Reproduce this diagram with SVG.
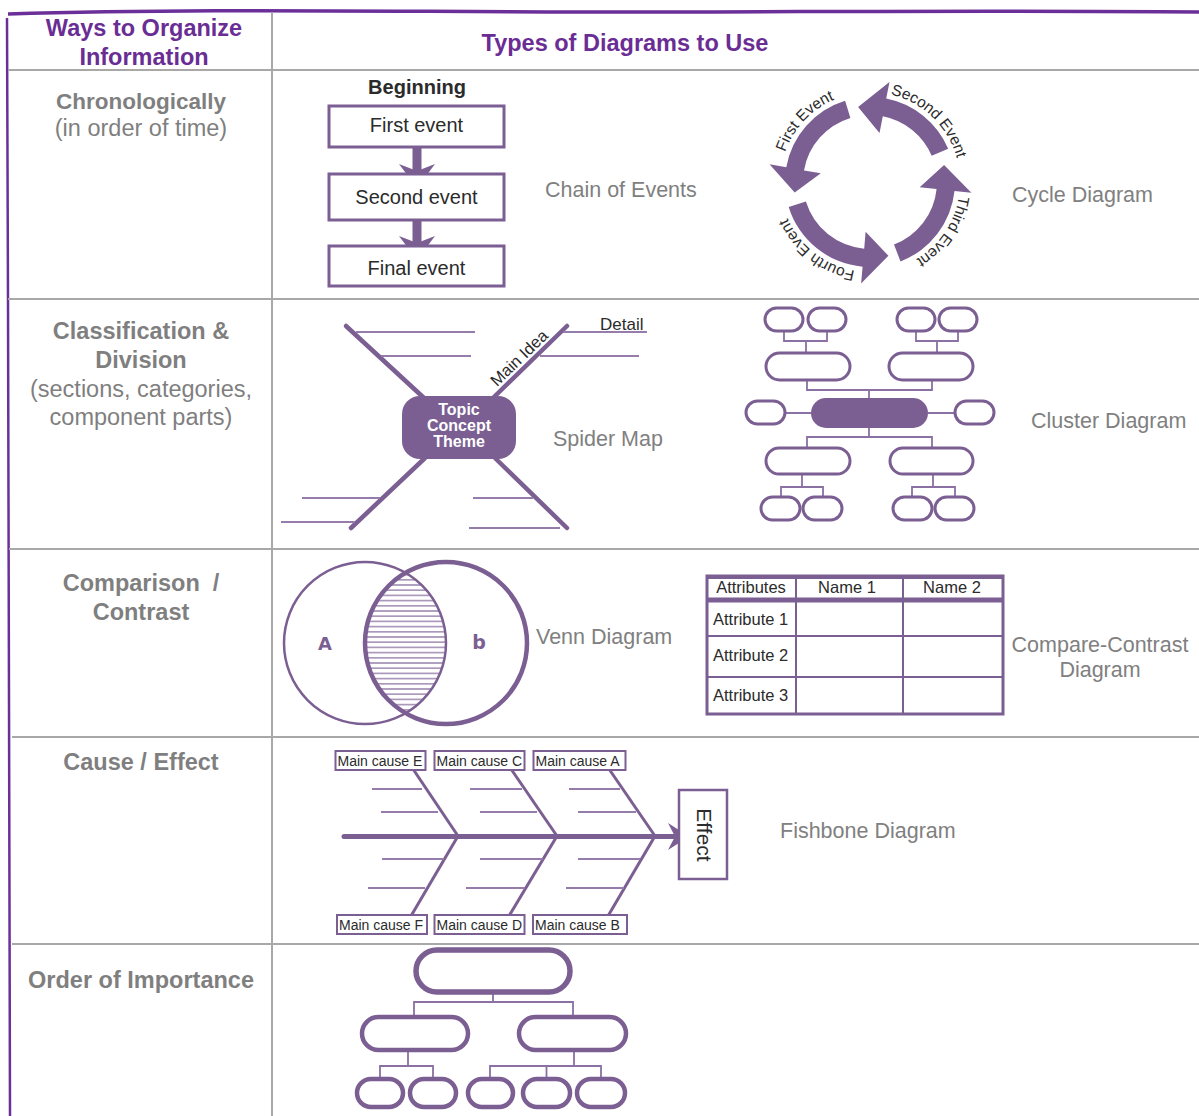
<svg xmlns="http://www.w3.org/2000/svg" width="1199" height="1116" viewBox="0 0 1199 1116">
<defs>
<style>
.grid{stroke:#a8a8a8;stroke-width:2;fill:none}
.hdr{font-family:"Liberation Sans",Arial,sans-serif;font-weight:bold;fill:#6a2d94;font-size:23.5px;text-anchor:middle}
.lbl{font-family:"Liberation Sans",Arial,sans-serif;font-weight:bold;fill:#7f7f7f;font-size:23.5px;text-anchor:middle}
.sub{font-family:"Liberation Sans",Arial,sans-serif;fill:#7f7f7f;font-size:23.5px;text-anchor:middle}
.cap{font-family:"Liberation Sans",Arial,sans-serif;fill:#808080;font-size:21.5px}
.txt{font-family:"Liberation Sans",Arial,sans-serif;fill:#2b2b2b}
.box{fill:#fff;stroke:#7b5e92;stroke-width:3}
.lbox{fill:#fff;stroke:#7b5e92;stroke-width:2}
.pill{fill:#fff;stroke:#7b5e92;stroke-width:3}
.pill2{fill:#fff;stroke:#7b5e92;stroke-width:4.5}
.fillp{fill:#7b5e92}
.thick{stroke:#7b5e92;stroke-width:4.5;stroke-linecap:round;fill:none}
.bone{stroke:#7b5e92;stroke-width:3;fill:none}
.thin{stroke:#957cab;stroke-width:2;fill:none}
.conn{stroke:#8b70a3;stroke-width:1.8;fill:none}
.tl{stroke:#7b5e92;stroke-width:2;fill:none}
</style>
<pattern id="hatch" patternUnits="userSpaceOnUse" width="10" height="5.2"><line x1="0" y1="2.6" x2="10" y2="2.6" stroke="#8f76a6" stroke-width="1.3"/></pattern>
<clipPath id="cL"><circle cx="365" cy="643" r="81"/></clipPath>
<clipPath id="cR"><circle cx="446" cy="643" r="81"/></clipPath>
<path id="tp1" d="M 780.05 185.14 A 90 90 0 0 1 866.86 92.05"/>
<path id="tp2" d="M 868.43 92.01 A 90 90 0 0 1 959.99 180.43"/>
<path id="tp3" d="M 958.35 164.83 A 90 90 0 0 1 887.17 270.35"/>
<path id="tp4" d="M 880.97 271.33 A 90 90 0 0 1 780.67 192.97"/>
</defs>
<rect x="0" y="0" width="1199" height="1116" fill="#fff"/>

<g id="table-grid">
<path d="M 8 14 C 200 8, 400 12, 600 12 S 1000 10, 1199 12" stroke="#6b2f9a" stroke-width="3.5" fill="none"/>
<path d="M 7 18 L 8 300 L 9 700 L 10 1116" stroke="#6b2f9a" stroke-width="2.5" fill="none"/>
<line class="grid" x1="8" y1="70" x2="1199" y2="70"/>
<line class="grid" x1="8" y1="299" x2="1199" y2="299"/>
<line class="grid" x1="9" y1="549" x2="1199" y2="549"/>
<line class="grid" x1="12" y1="737" x2="1199" y2="737"/>
<line class="grid" x1="12" y1="944" x2="1199" y2="944"/>
<line class="grid" x1="272" y1="12" x2="272" y2="1116"/>
</g>

<g id="headers">
<text class="hdr" x="144" y="36">Ways to Organize</text>
<text class="hdr" x="144" y="65">Information</text>
<text class="hdr" x="625" y="51">Types of Diagrams to Use</text>
</g>

<g id="row-labels">
<text class="lbl" x="141" y="109" style="font-size:22.5px">Chronologically</text>
<text class="sub" x="141" y="136">(in order of time)</text>
<text class="lbl" x="141" y="339">Classification &amp;</text>
<text class="lbl" x="141" y="368">Division</text>
<text class="sub" x="141" y="397">(sections, categories,</text>
<text class="sub" x="141" y="425">component parts)</text>
<text class="lbl" x="141" y="591" xml:space="preserve">Comparison  /</text>
<text class="lbl" x="141" y="620">Contrast</text>
<text class="lbl" x="141" y="770">Cause / Effect</text>
<text class="lbl" x="141" y="988">Order of Importance</text>
</g>

<g id="captions">
<text class="cap" x="545" y="197">Chain of Events</text>
<text class="cap" x="1012" y="202">Cycle Diagram</text>
<text class="cap" x="553" y="446">Spider Map</text>
<text class="cap" x="1031" y="428">Cluster Diagram</text>
<text class="cap" x="536" y="644">Venn Diagram</text>
<text class="cap" x="1100" y="652" text-anchor="middle">Compare-Contrast</text>
<text class="cap" x="1100" y="677" text-anchor="middle">Diagram</text>
<text class="cap" x="780" y="838">Fishbone Diagram</text>
</g>

<g id="connectors">
<rect class="fillp" x="412.5" y="147" width="9" height="25"/>
<polygon class="fillp" points="399,164 417,171 435,164 417,188"/>
<rect class="fillp" x="412.5" y="220" width="9" height="24"/>
<polygon class="fillp" points="399,236 417,243 435,236 417,260"/>
<line class="thick" x1="346" y1="326" x2="424" y2="398"/>
<line class="thick" x1="567" y1="326" x2="493" y2="398"/>
<line class="thick" x1="351" y1="528" x2="425" y2="458"/>
<line class="thick" x1="567" y1="528" x2="495" y2="458"/>
<line class="thin" x1="356" y1="332" x2="475" y2="332"/>
<line class="thin" x1="381" y1="356" x2="471" y2="356"/>
<line class="thin" x1="563" y1="332" x2="647" y2="332"/>
<line class="thin" x1="540" y1="356" x2="639" y2="356"/>
<line class="thin" x1="302" y1="498" x2="380" y2="498"/>
<line class="thin" x1="281" y1="522" x2="355" y2="522"/>
<line class="thin" x1="473" y1="498" x2="533" y2="498"/>
<line class="thin" x1="469" y1="528" x2="560" y2="528"/>
<path class="conn" d="M 785 413 H 811 M 928 413 H 955 M 869 398 V 390 M 807 380 V 390 H 932 V 380 M 869 428 V 437 M 807 448 V 437 H 932 V 448 M 784 331 V 341 H 827 V 331 M 806 341 V 353 M 916 331 V 341 H 958 V 331 M 937 341 V 353 M 802 474 V 487 M 781 497 V 487 H 823 V 497 M 933 474 V 487 M 912 497 V 487 H 955 V 497"/>
<line x1="344" y1="836.5" x2="676" y2="836.5" stroke="#7b5e92" stroke-width="5" stroke-linecap="round"/>
<polygon class="fillp" points="668,823 689,836.5 668,850 675,836.5"/>
<line class="bone" x1="413" y1="769" x2="458" y2="836"/>
<line class="bone" x1="511" y1="769" x2="557" y2="836"/>
<line class="bone" x1="609" y1="769" x2="655" y2="836"/>
<line class="bone" x1="458" y1="836" x2="411" y2="916"/>
<line class="bone" x1="557" y1="836" x2="509" y2="916"/>
<line class="bone" x1="655" y1="836" x2="608" y2="916"/>
<path class="thin" d="M 372 789 H 422 M 381 812 H 438 M 382 859 H 444 M 368 888 H 425 M 470 789 H 522 M 480 812 H 537 M 480 859 H 543 M 466 888 H 525 M 569 789 H 620 M 578 812 H 636 M 578 859 H 640 M 566 888 H 624"/>
<path class="conn" d="M 493 992 V 1002 M 414 1017 V 1002 H 573 V 1017 M 408 1050 V 1066 M 380 1079 V 1066 H 433 V 1079 M 574 1050 V 1066 M 490 1079 V 1066 H 601 V 1079 M 546.5 1066 V 1079"/>
</g>

<g id="chain-beginning"><text class="txt" x="417" y="94" font-size="20" font-weight="bold" text-anchor="middle">Beginning</text></g>
<g id="first-event"><rect class="box" x="329" y="106" width="175" height="41"/><text class="txt" x="416.5" y="132" font-size="20" text-anchor="middle">First event</text></g>
<g id="second-event"><rect class="box" x="329" y="174" width="175" height="46"/><text class="txt" x="416.5" y="204" font-size="20" text-anchor="middle">Second event</text></g>
<g id="final-event"><rect class="box" x="329" y="246" width="175" height="40"/><text class="txt" x="416.5" y="275" font-size="20" text-anchor="middle">Final event</text></g>

<g id="cycle-first"><path class="fillp" d="M 845.1 100.7 A 85 85 0 0 0 786.3 167.2 L 769.5 164.3 L 794.7 192.6 L 820.8 173.3 L 804.0 170.4 A 67 67 0 0 1 850.4 117.9 Z"/><text class="txt" font-size="15.5"><textPath href="#tp1" startOffset="50%" text-anchor="middle">First Event</textPath></text></g>
<g id="cycle-second"><path class="fillp" d="M 948.2 148.8 A 85 85 0 0 0 886.2 98.6 L 889.5 81.9 L 858.1 106.9 L 879.5 132.9 L 882.8 116.2 A 67 67 0 0 1 931.7 155.8 Z"/><text class="txt" font-size="15.5"><textPath href="#tp2" startOffset="50%" text-anchor="middle">Second Event</textPath></text></g>
<g id="cycle-third"><path class="fillp" d="M 900.5 261.4 A 85 85 0 0 0 954.5 190.9 L 971.4 192.7 L 944.1 164.9 L 919.7 187.2 L 936.6 189.0 A 67 67 0 0 1 894.0 244.6 Z"/><text class="txt" font-size="15.5"><textPath href="#tp3" startOffset="50%" text-anchor="middle">Third Event</textPath></text></g>
<g id="cycle-fourth"><path class="fillp" d="M 788.7 206.9 A 85 85 0 0 0 862.6 266.7 L 861.1 283.6 L 888.4 255.7 L 865.6 231.8 L 864.2 248.7 A 67 67 0 0 1 805.9 201.6 Z"/><text class="txt" font-size="15.5"><textPath href="#tp4" startOffset="50%" text-anchor="middle">Fourth Event</textPath></text></g>

<g id="spider-center"><rect class="fillp" x="402" y="396" width="114" height="63" rx="18"/>
<text x="459" y="415" font-family="Liberation Sans, Arial, sans-serif" font-weight="bold" font-size="16" fill="#fff" text-anchor="middle">Topic</text>
<text x="459" y="431" font-family="Liberation Sans, Arial, sans-serif" font-weight="bold" font-size="16" fill="#fff" text-anchor="middle">Concept</text>
<text x="459" y="447" font-family="Liberation Sans, Arial, sans-serif" font-weight="bold" font-size="16" fill="#fff" text-anchor="middle">Theme</text></g>
<g id="spider-main-idea"><text class="txt" font-size="16.5" text-anchor="middle" transform="translate(523,362) rotate(-44)">Main Idea</text></g>
<g id="spider-detail"><text class="txt" x="600" y="330" font-size="17">Detail</text></g>

<g id="cluster-center"><rect class="fillp" x="811" y="398" width="117" height="30" rx="15"/></g>
<g id="cluster-left"><rect class="pill" x="746" y="401" width="39" height="23" rx="11.5"/></g>
<g id="cluster-right"><rect class="pill" x="955" y="401" width="39" height="23" rx="11.5"/></g>
<g id="cluster-ul"><rect class="pill" x="766" y="353" width="84" height="27" rx="13.5"/></g>
<g id="cluster-ur"><rect class="pill" x="889" y="353" width="84" height="27" rx="13.5"/></g>
<g id="cluster-ll"><rect class="pill" x="766" y="448" width="84" height="26" rx="13"/></g>
<g id="cluster-lr"><rect class="pill" x="890" y="448" width="83" height="26" rx="13"/></g>
<g id="cluster-t1"><rect class="pill" x="765" y="308" width="38" height="23" rx="11.5"/></g>
<g id="cluster-t2"><rect class="pill" x="808" y="308" width="38" height="23" rx="11.5"/></g>
<g id="cluster-t3"><rect class="pill" x="897" y="308" width="38" height="23" rx="11.5"/></g>
<g id="cluster-t4"><rect class="pill" x="939" y="308" width="38" height="23" rx="11.5"/></g>
<g id="cluster-b1"><rect class="pill" x="761" y="497" width="39" height="23" rx="11.5"/></g>
<g id="cluster-b2"><rect class="pill" x="803" y="497" width="39" height="23" rx="11.5"/></g>
<g id="cluster-b3"><rect class="pill" x="893" y="497" width="39" height="23" rx="11.5"/></g>
<g id="cluster-b4"><rect class="pill" x="935" y="497" width="39" height="23" rx="11.5"/></g>

<g id="venn">
<g clip-path="url(#cL)"><rect x="360" y="560" width="92" height="166" fill="url(#hatch)" clip-path="url(#cR)"/></g>
<circle cx="365" cy="643" r="81" fill="none" stroke="#7b5e92" stroke-width="2.5"/>
<circle cx="446" cy="643" r="81" fill="none" stroke="#7b5e92" stroke-width="4.5"/>
<text x="325" y="650" font-family="DejaVu Sans, sans-serif" font-size="18" font-weight="bold" fill="#7b5e92" text-anchor="middle">A</text>
<text x="479" y="649" font-family="DejaVu Sans, sans-serif" font-size="19" font-weight="bold" fill="#7b5e92" text-anchor="middle">b</text>
</g>

<g id="compare-table">
<rect x="707" y="576" width="296" height="138" fill="#fff" stroke="#7b5e92" stroke-width="3"/>
<line x1="707" y1="577" x2="1003" y2="577" stroke="#7b5e92" stroke-width="4"/>
<line x1="707" y1="600" x2="1003" y2="600" stroke="#7b5e92" stroke-width="5"/>
<line class="tl" x1="796" y1="577" x2="796" y2="714"/>
<line class="tl" x1="903" y1="577" x2="903" y2="714"/>
<line class="tl" x1="707" y1="636" x2="1003" y2="636"/>
<line class="tl" x1="707" y1="677" x2="1003" y2="677"/>
<text class="txt" x="751" y="593" font-size="16.5" text-anchor="middle">Attributes</text>
<text class="txt" x="847" y="593" font-size="16.5" text-anchor="middle">Name 1</text>
<text class="txt" x="952" y="593" font-size="16.5" text-anchor="middle">Name 2</text>
<text class="txt" x="713" y="625" font-size="16.5">Attribute 1</text>
<text class="txt" x="713" y="661" font-size="16.5">Attribute 2</text>
<text class="txt" x="713" y="701" font-size="16.5">Attribute 3</text>
</g>

<g id="cause-e"><rect class="lbox" x="335.5" y="751" width="90" height="19"/><text class="txt" x="337.5" y="765.5" font-size="14">Main cause E</text></g>
<g id="cause-c"><rect class="lbox" x="434.5" y="751" width="90" height="19"/><text class="txt" x="436.5" y="765.5" font-size="14">Main cause C</text></g>
<g id="cause-a"><rect class="lbox" x="533.5" y="751" width="92" height="19"/><text class="txt" x="535.5" y="765.5" font-size="14">Main cause A</text></g>
<g id="cause-f"><rect class="lbox" x="337" y="915" width="90" height="19"/><text class="txt" x="339" y="929.5" font-size="14">Main cause F</text></g>
<g id="cause-d"><rect class="lbox" x="434.5" y="915" width="90" height="19"/><text class="txt" x="436.5" y="929.5" font-size="14">Main cause D</text></g>
<g id="cause-b"><rect class="lbox" x="533" y="915" width="94" height="19"/><text class="txt" x="535" y="929.5" font-size="14">Main cause B</text></g>
<g id="effect"><rect x="679" y="790" width="48" height="89" fill="#fff" stroke="#7b5e92" stroke-width="2.5"/><text class="txt" font-size="21" text-anchor="middle" transform="translate(697,835) rotate(90)">Effect</text></g>

<g id="oi-top"><rect x="416" y="950" width="154" height="42" rx="21" fill="#fff" stroke="#7b5e92" stroke-width="5.5"/></g>
<g id="oi-l"><rect class="pill2" x="362" y="1017" width="106" height="33" rx="16.5"/></g>
<g id="oi-r"><rect class="pill2" x="519" y="1017" width="107" height="33" rx="16.5"/></g>
<g id="oi-b1"><rect class="pill2" x="357" y="1079" width="46" height="28" rx="14"/></g>
<g id="oi-b2"><rect class="pill2" x="410" y="1079" width="46" height="28" rx="14"/></g>
<g id="oi-b3"><rect class="pill2" x="468" y="1079" width="45" height="28" rx="14"/></g>
<g id="oi-b4"><rect class="pill2" x="523" y="1079" width="47" height="28" rx="14"/></g>
<g id="oi-b5"><rect class="pill2" x="577" y="1079" width="48" height="28" rx="14"/></g>
</svg>
